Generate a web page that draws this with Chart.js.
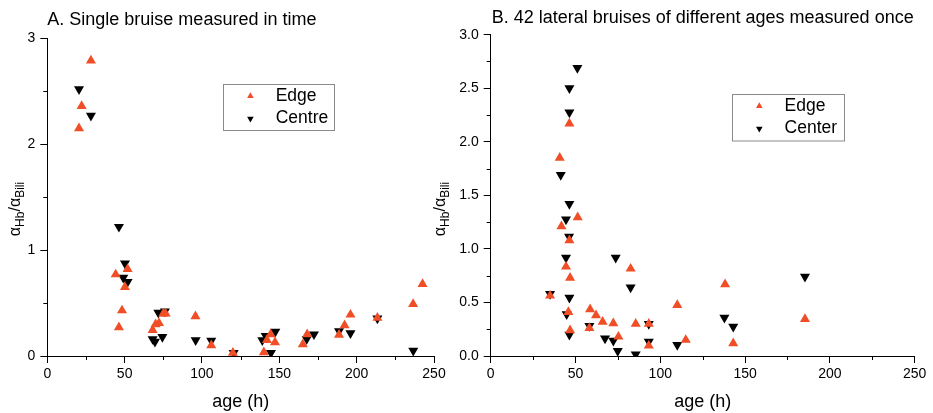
<!DOCTYPE html>
<html>
<head>
<meta charset="utf-8">
<script src="https://cdn.jsdelivr.net/npm/chart.js@4.4.1/dist/chart.umd.min.js"></script>
<style>
  body { margin: 0; background: #fff; width: 933px; height: 413px; overflow: hidden; position: relative; }
  canvas { position: absolute; top: 0; }
</style>
</head>
<body>
<canvas id="chartA" width="466" height="413" style="left:0"></canvas>
<canvas id="chartB" width="508" height="413" style="left:425px"></canvas>
<script>
// A. single bruise, edge and centre
const edgeAgeA = [20.5, 22.2, 28.2, 44.2, 46.3, 48.3, 50.2, 51.9, 68.1, 70, 72.2, 75, 76.5, 95.8, 106, 120, 140, 142, 144.4, 147.2, 165.2, 168, 188.6, 192.2, 196, 213.4, 236.5, 242.6];
const edgeRatioA = [2.15, 2.36, 2.79, 0.77, 0.27, 0.43, 0.65, 0.82, 0.245, 0.30, 0.31, 0.40, 0.40, 0.375, 0.10, 0.03, 0.035, 0.15, 0.205, 0.13, 0.11, 0.205, 0.20, 0.29, 0.39, 0.36, 0.49, 0.68];
const centreAgeA = [20.5, 28.2, 46.3, 49.1, 50.2, 51.9, 68.1, 69.6, 71.8, 74.4, 76, 95.9, 106, 120.5, 139, 141.2, 144.6, 147.4, 167.7, 172.4, 188.6, 196, 213.4, 236.6];
const centreRatioA = [2.52, 2.27, 1.22, 0.74, 0.875, 0.70, 0.16, 0.135, 0.41, 0.18, 0.42, 0.15, 0.145, 0.03, 0.15, 0.19, 0.03, 0.23, 0.16, 0.205, 0.235, 0.215, 0.355, 0.05];

// B. 42 lateral bruises, edge and center
const edgeAgeB = [35, 40.7, 41.7, 44.4, 45.8, 46.4, 46.4, 46.8, 46.8, 51.3, 58.2, 58.6, 62.1, 66, 72.3, 75.3, 82.5, 85.5, 93.2, 93.2, 110, 115, 138.2, 143, 185.3];
const edgeRatioB = [0.563, 1.85, 1.21, 0.834, 0.41, 2.17, 1.08, 0.73, 0.24, 1.295, 0.26, 0.436, 0.38, 0.32, 0.305, 0.18, 0.815, 0.30, 0.30, 0.096, 0.476, 0.15, 0.67, 0.118, 0.345];
const centerAgeB = [35, 41.3, 44.4, 44.4, 44.8, 46.2, 46.4, 46.4, 46.4, 46.4, 46.4, 51.1, 58.2, 67.4, 72.3, 73.7, 74.9, 82.5, 85.5, 93.2, 93.2, 110, 137.8, 143, 185.3];
const centerRatioB = [0.58, 1.69, 1.276, 0.918, 0.39, 1.114, 2.50, 2.275, 1.42, 0.545, 0.20, 2.69, 0.28, 0.165, 0.143, 0.918, 0.047, 0.64, 0.016, 0.30, 0.134, 0.103, 0.358, 0.274, 0.74];

// ticks
const ageTicks = [0, 50, 100, 150, 200, 250];
const ageMinor = [25, 75, 125, 175, 225];
const ratioTicksA = [0, 1, 2, 3];
const ratioMinorA = [0.5, 1.5, 2.5];
const ratioTicksB = [0, 0.5, 1, 1.5, 2, 2.5, 3];
const ratioMinorB = [0.25, 0.75, 1.25, 1.75, 2.25, 2.75];

const FONT = '"Liberation Sans", Arial, sans-serif';
const RED = '#F04E26';
Chart.defaults.font.family = FONT;
Chart.defaults.color = '#000';

function toPoints(xs, ys) {
  return xs.map((x, i) => ({ x: x, y: ys[i] }));
}

function triangle(ctx, x, y, r, rot, color) {
  const rad = rot * Math.PI / 180;
  ctx.beginPath();
  for (let k = 0; k < 3; k++) {
    const a = rad + k * 2 * Math.PI / 3;
    ctx.lineTo(x + Math.sin(a) * r, y - Math.cos(a) * r);
  }
  ctx.closePath();
  ctx.fillStyle = color;
  ctx.fill();
}

// short minor tick marks between the labelled ones
const minorTicks = {
  id: 'minorTicks',
  afterDraw(chart, args, opts) {
    const ctx = chart.ctx, sx = chart.scales.x, sy = chart.scales.y;
    ctx.save();
    ctx.strokeStyle = '#000';
    ctx.lineWidth = 1;
    ctx.beginPath();
    opts.x.forEach(v => {
      const p = Math.round(sx.getPixelForValue(v)) + 0.5;
      ctx.moveTo(p, sx.top);
      ctx.lineTo(p, sx.top + opts.length);
    });
    opts.y.forEach(v => {
      const p = Math.round(sy.getPixelForValue(v)) + 0.5;
      ctx.moveTo(sy.right, p);
      ctx.lineTo(sy.right - opts.length, p);
    });
    ctx.stroke();
    ctx.restore();
  }
};

// boxed legend sitting inside the plot
const boxLegend = {
  id: 'boxLegend',
  afterDraw(chart, args, opts) {
    const ctx = chart.ctx, area = chart.chartArea;
    const left = Math.round(area.left + opts.dx), top = Math.round(area.top + opts.dy);
    ctx.save();
    ctx.strokeStyle = '#8a8a8a';
    ctx.lineWidth = 1;
    ctx.strokeRect(left + 0.5, top + 0.5, opts.width, opts.height);
    ctx.font = '17.5px ' + FONT;
    ctx.textBaseline = 'middle';
    chart.data.datasets.forEach((ds, i) => {
      const cy = top + opts.rows[i];
      triangle(ctx, left + opts.markerX, cy, 3.8, ds.pointRotation, ds.pointBackgroundColor);
      ctx.fillStyle = '#000';
      ctx.fillText(ds.label, left + opts.textX, cy);
    });
    ctx.restore();
  }
};

// y title with subscripts
const ratioTitle = {
  id: 'ratioTitle',
  afterDraw(chart, args, opts) {
    const ctx = chart.ctx;
    const parts = [['α', 16, 0], ['Hb', 12, 4], ['/', 16, 0], ['α', 16, 0], ['Bili', 12, 4]];
    ctx.save();
    ctx.translate(opts.x, opts.y);
    ctx.rotate(-Math.PI / 2);
    let total = 0;
    parts.forEach(p => { ctx.font = p[1] + 'px ' + FONT; total += ctx.measureText(p[0]).width; });
    let pos = -total / 2;
    ctx.fillStyle = '#000';
    ctx.textBaseline = 'alphabetic';
    parts.forEach(p => {
      ctx.font = p[1] + 'px ' + FONT;
      ctx.fillText(p[0], pos, p[2]);
      pos += ctx.measureText(p[0]).width;
    });
    ctx.restore();
  }
};

function makeConfig(s) {
  return {
    type: 'scatter',
    data: {
      datasets: [
        {
          label: s.labels[0],
          data: toPoints(s.edgeX, s.edgeY),
          pointStyle: 'triangle',
          pointRotation: 0,
          pointRadius: 5.8,
          pointBorderWidth: 0,
          pointBackgroundColor: RED,
        },
        {
          label: s.labels[1],
          data: toPoints(s.centreX, s.centreY),
          pointStyle: 'triangle',
          pointRotation: 180,
          pointRadius: 5.8,
          pointBorderWidth: 0,
          pointBackgroundColor: '#000',
        },
      ]
    },
    options: {
      responsive: false,
      animation: false,
      events: [],
      layout: { padding: { top: 0, left: 0, right: s.padRight, bottom: 0 } },
      scales: {
        x: {
          type: 'linear',
          min: 0,
          max: 250,
          afterBuildTicks: sc => { sc.ticks = ageTicks.map(v => ({ value: v })); },
          afterFit: sc => { sc.height = 57; },
          ticks: { autoSkip: false, padding: 3, font: { size: 14 }, color: '#000' },
          grid: { drawOnChartArea: false, tickLength: 7, color: '#000', tickWidth: 1 },
          border: { color: '#000', width: 1 },
          title: { display: true, text: 'age (h)', font: { size: 18 }, color: '#000', padding: { top: 0, bottom: 0 } }
        },
        y: {
          type: 'linear',
          min: 0,
          max: 3,
          afterBuildTicks: sc => { sc.ticks = s.yTicks.map(v => ({ value: v })); },
          afterFit: sc => { sc.width = s.yWidth; },
          ticks: { autoSkip: false, padding: 5, font: { size: 14 }, color: '#000', callback: s.yFormat },
          grid: { drawOnChartArea: false, tickLength: 7, color: '#000', tickWidth: 1 },
          border: { color: '#000', width: 1 }
        }
      },
      plugins: {
        legend: { display: false },
        tooltip: { enabled: false },
        title: {
          display: true,
          text: s.title,
          align: s.titleAlign,
          fullSize: false,
          color: '#000',
          font: { size: 18, weight: 'normal' },
          padding: s.titlePad
        },
        minorTicks: { x: ageMinor, y: s.yMinor, length: 4 },
        boxLegend: s.legend,
        ratioTitle: { x: 20, y: 209 }
      }
    },
    plugins: [minorTicks, boxLegend, ratioTitle]
  };
}

const chartA = new Chart(document.getElementById('chartA'), makeConfig({
  labels: ['Edge', 'Centre'],
  edgeX: edgeAgeA, edgeY: edgeRatioA,
  centreX: centreAgeA, centreY: centreRatioA,
  yTicks: ratioTicksA, yMinor: ratioMinorA,
  yFormat: v => String(v),
  yWidth: 47.3,
  padRight: 32,
  title: 'A. Single bruise measured in time',
  titleAlign: 'start',
  titlePad: { top: 9, bottom: 7.7 },
  legend: { dx: 176, dy: 46, width: 111, height: 46, markerX: 27.4, textX: 52.7, rows: [12, 34.6] }
}));

const chartB = new Chart(document.getElementById('chartB'), makeConfig({
  labels: ['Edge', 'Center'],
  edgeX: edgeAgeB, edgeY: edgeRatioB,
  centreX: centerAgeB, centreY: centerRatioB,
  yTicks: ratioTicksB, yMinor: ratioMinorB,
  yFormat: v => v.toFixed(1),
  yWidth: 65.7,
  padRight: 18.3,
  title: 'B. 42 lateral bruises of different ages measured once',
  titleAlign: 'center',
  titlePad: { top: 7.7, bottom: 5.4 },
  legend: { dx: 241, dy: 59, width: 112, height: 46.5, markerX: 27.3, textX: 52.6, rows: [12, 34.6] }
}));
</script>
</body>
</html>
